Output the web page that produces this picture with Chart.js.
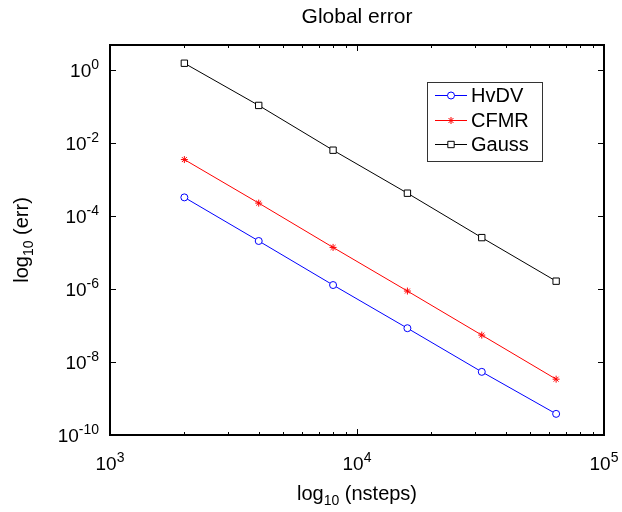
<!DOCTYPE html>
<html>
<head>
<meta charset="utf-8">
<script src="https://cdn.jsdelivr.net/npm/chart.js@4"></script>
<style>
  body { margin: 0; background: #fff; }
  #wrap { width: 622px; height: 512px; }
</style>
</head>
<body>
<div id="wrap"><canvas id="c" width="622" height="512"></canvas></div>
<script>
// data
const nsteps = [2000, 4000, 8000, 16000, 32000, 64000]
const errHvDV = [3.3e-4, 2.1e-5, 1.3e-6, 8.5e-8, 5.4e-9, 3.8e-10]
const errCFMR = [3.6e-3, 2.3e-4, 1.4e-5, 8.9e-7, 5.5e-8, 3.4e-9]
const errGauss = [1.58, 0.11, 6.5e-3, 4.3e-4, 2.6e-5, 1.66e-6]

const xMajor = [1e3, 1e4, 1e5]
const xMajorExp = ["3", "4", "5"]
const xMinor = [2e3, 3e3, 4e3, 5e3, 6e3, 7e3, 8e3, 9e3, 2e4, 3e4, 4e4, 5e4, 6e4, 7e4, 8e4, 9e4]
const yMajor = [1e0, 1e-2, 1e-4, 1e-6, 1e-8, 1e-10]
const yMajorExp = ["0", "-2", "-4", "-6", "-8", "-10"]

const FONT = '"Liberation Sans", Arial, Helvetica, sans-serif'

function drawPow(ctx, exp, x, y, align) {
  ctx.font = `19px ${FONT}`
  const wb = ctx.measureText("10").width
  ctx.font = `14px ${FONT}`
  const we = ctx.measureText(exp).width
  const total = wb + we
  let x0 = x
  if (align === "right") x0 = x - total
  else if (align === "center") x0 = x - total / 2
  ctx.textAlign = "left"
  ctx.textBaseline = "alphabetic"
  ctx.font = `19px ${FONT}`
  ctx.fillText("10", x0, y)
  ctx.font = `14px ${FONT}`
  ctx.fillText(exp, x0 + wb, y - 8)
}

// "log" + subscript "10" + rest, centred on x
function drawLogLabel(ctx, rest, x, y) {
  ctx.font = `20px ${FONT}`
  const w1 = ctx.measureText("log").width
  const w3 = ctx.measureText(rest).width
  ctx.font = `14px ${FONT}`
  const w2 = ctx.measureText("10").width
  let x0 = x - (w1 + w2 + w3) / 2
  ctx.textAlign = "left"
  ctx.textBaseline = "alphabetic"
  ctx.font = `20px ${FONT}`
  ctx.fillText("log", x0, y)
  ctx.font = `14px ${FONT}`
  ctx.fillText("10", x0 + w1, y + 5)
  ctx.font = `20px ${FONT}`
  ctx.fillText(rest, x0 + w1 + w2, y)
}

const axesPlugin = {
  id: "matlabAxes",
  afterDraw(chart) {
    const ctx = chart.ctx
    const a = chart.chartArea
    const xs = chart.scales.x
    const ys = chart.scales.y
    ctx.save()
    ctx.fillStyle = "#000"
    ctx.strokeStyle = "#000"

    // inward ticks on all four sides
    ctx.lineWidth = 1
    ctx.beginPath()
    xMajor.concat(xMinor).forEach(v => {
      const px = Math.round(xs.getPixelForValue(v)) + 0.5
      const len = xMajor.includes(v) ? 6 : 3
      ctx.moveTo(px, a.bottom); ctx.lineTo(px, a.bottom - len)
      ctx.moveTo(px, a.top); ctx.lineTo(px, a.top + len)
    })
    yMajor.forEach(v => {
      const py = Math.round(ys.getPixelForValue(v)) + 0.5
      ctx.moveTo(a.left, py); ctx.lineTo(a.left + 6, py)
      ctx.moveTo(a.right, py); ctx.lineTo(a.right - 6, py)
    })
    ctx.stroke()

    // box
    ctx.lineWidth = 2
    ctx.strokeRect(a.left, a.top, a.right - a.left, a.bottom - a.top)

    // tick labels
    xMajor.forEach((v, i) => drawPow(ctx, xMajorExp[i], xs.getPixelForValue(v), 470, "center"))
    yMajor.forEach((v, i) => drawPow(ctx, yMajorExp[i], 99, ys.getPixelForValue(v) + 7, "right"))

    // title and axis labels
    ctx.font = `21px ${FONT}`
    ctx.textAlign = "center"
    ctx.textBaseline = "alphabetic"
    ctx.fillText("Global error", (a.left + a.right) / 2, 23)
    drawLogLabel(ctx, " (nsteps)", (a.left + a.right) / 2, 500)
    ctx.save()
    ctx.translate(28, (a.top + a.bottom) / 2)
    ctx.rotate(-Math.PI / 2)
    drawLogLabel(ctx, " (err)", 0, 0)
    ctx.restore()

    // legend
    const lx = 427, ly = 82, lw = 115, lh = 79
    ctx.fillStyle = "#fff"
    ctx.fillRect(lx, ly, lw, lh)
    ctx.strokeStyle = "#333"
    ctx.lineWidth = 1
    ctx.strokeRect(lx + 0.5, ly + 0.5, lw, lh)
    const rows = [95, 120, 144]
    chart.data.datasets.forEach((ds, i) => {
      const y = rows[i]
      ctx.strokeStyle = ds.borderColor
      ctx.lineWidth = 1
      ctx.beginPath()
      ctx.moveTo(435, y + 0.5); ctx.lineTo(467, y + 0.5)
      ctx.stroke()
      ctx.fillStyle = "#fff"
      Chart.helpers.drawPoint(ctx, {
        pointStyle: ds.pointStyle, radius: ds.pointRadius, rotation: 0, borderWidth: 1
      }, 451, y + 0.5)
      ctx.fillStyle = "#000"
      ctx.font = `20px ${FONT}`
      ctx.textAlign = "left"
      ctx.textBaseline = "middle"
      ctx.fillText(ds.label, 471, y + 1)
    })
    ctx.restore()
  }
}

new Chart(document.getElementById("c"), {
  type: "line",
  data: {
    labels: nsteps,
    datasets: [
      {
        label: "HvDV",
        data: nsteps.map((n, i) => ({ x: n, y: errHvDV[i] })),
        borderColor: "#0000ff",
        pointBorderColor: "#0000ff",
        pointBackgroundColor: "#ffffff",
        pointStyle: "circle",
        pointRadius: 3.5,
      },
      {
        label: "CFMR",
        data: nsteps.map((n, i) => ({ x: n, y: errCFMR[i] })),
        borderColor: "#ff0000",
        pointBorderColor: "#ff0000",
        pointBackgroundColor: "#ffffff",
        pointStyle: "star",
        pointRadius: 3.5,
      },
      {
        label: "Gauss",
        data: nsteps.map((n, i) => ({ x: n, y: errGauss[i] })),
        borderColor: "#000000",
        pointBorderColor: "#000000",
        pointBackgroundColor: "#ffffff",
        pointStyle: "rect",
        pointRadius: 4.5,
      },
    ]
  },
  options: {
    responsive: false,
    animation: false,
    layout: { padding: { left: 110, right: 18, top: 45, bottom: 77 } },
    elements: { line: { borderWidth: 1, tension: 0 }, point: { borderWidth: 1 } },
    plugins: { legend: { display: false }, tooltip: { enabled: false } },
    scales: {
      x: {
        type: "logarithmic",
        min: 1e3,
        max: 1e5,
        bounds: "data",
        grid: { display: false },
        border: { display: false },
        ticks: { display: false },
        afterFit: (s) => { s.height = 0 }
      },
      y: {
        type: "logarithmic",
        min: 1e-10,
        max: 5,
        bounds: "data",
        grid: { display: false },
        border: { display: false },
        ticks: { display: false },
        afterFit: (s) => { s.width = 0 }
      }
    }
  },
  plugins: [axesPlugin]
})
</script>
</body>
</html>
